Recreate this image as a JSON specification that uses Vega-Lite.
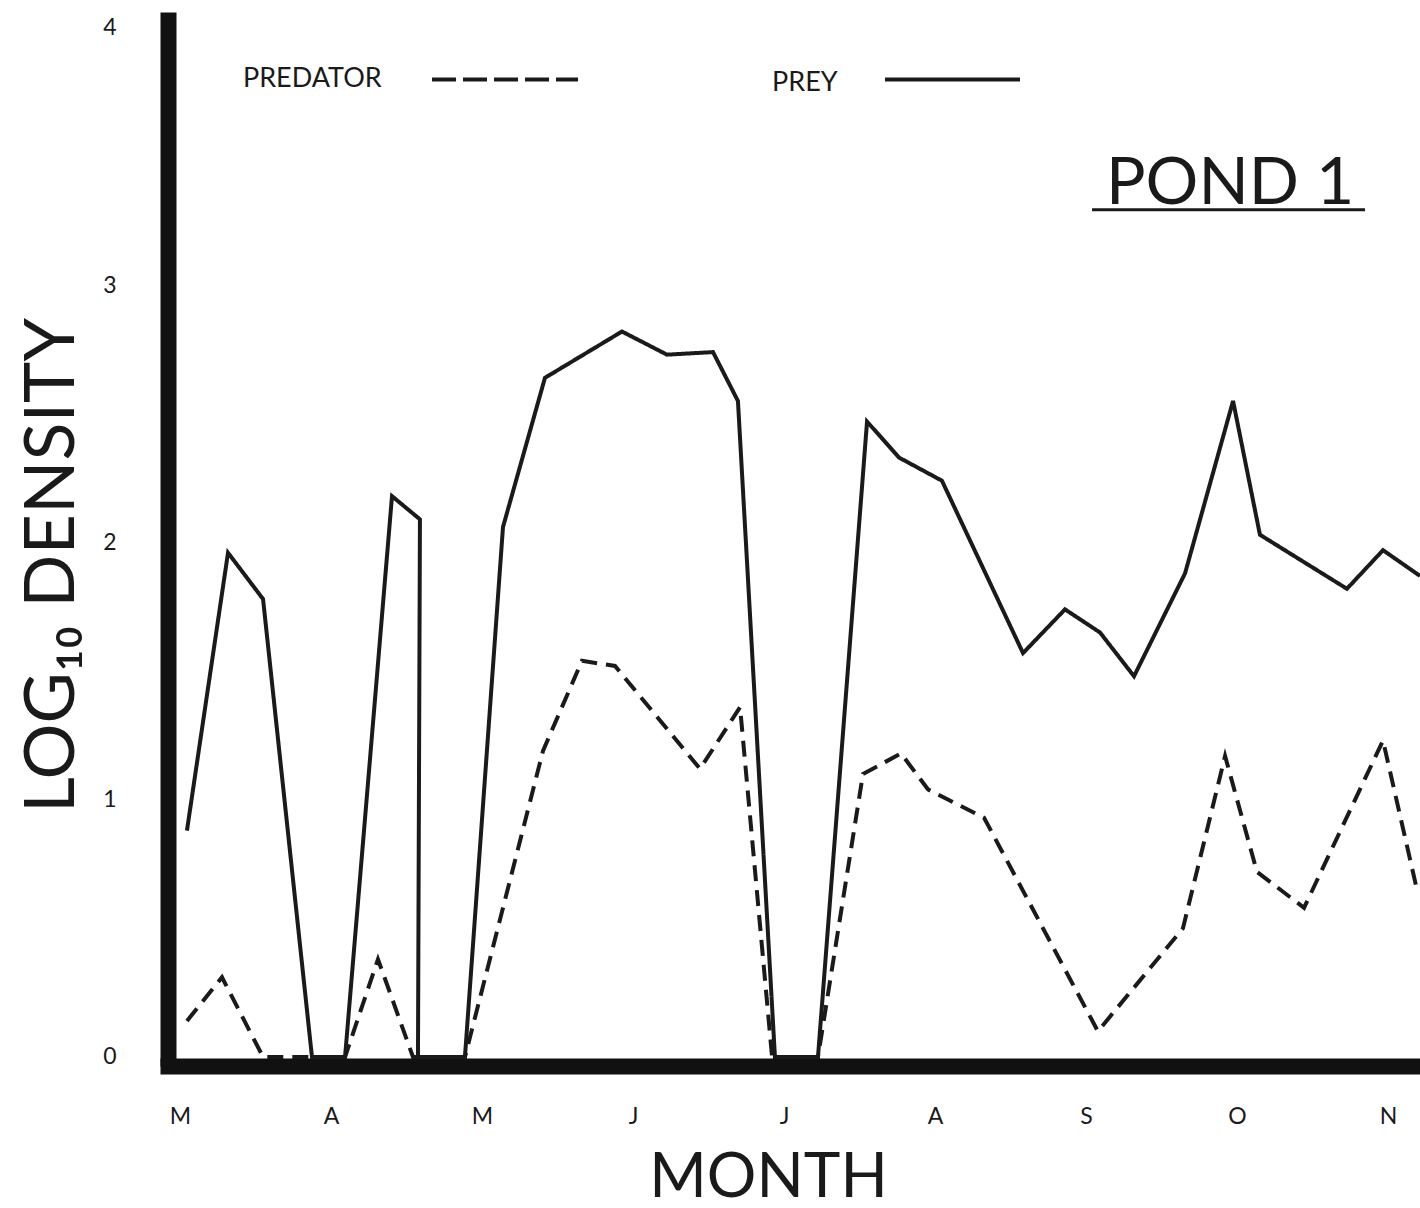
{
  "$schema": "https://vega.github.io/schema/vega-lite/v6.json",
  "width": 1252,
  "height": 1054,
  "autosize": {"type": "none"},
  "padding": {"left": 168, "top": 12, "right": 0, "bottom": 142},
  "background": "white",
  "config": {"view": {"stroke": null}, "font": "Lato", "text": {"font": "Lato", "color": "#1a1a1a"}},
  "datasets": {
    "series": [
      {"series": "Prey", "i": 1, "month": 0.046, "density": 0.88},
      {"series": "Prey", "i": 2, "month": 0.318, "density": 1.96},
      {"series": "Prey", "i": 3, "month": 0.55, "density": 1.78},
      {"series": "Prey", "i": 4, "month": 0.874, "density": 0},
      {"series": "Prey", "i": 5, "month": 1.093, "density": 0},
      {"series": "Prey", "i": 6, "month": 1.404, "density": 2.18},
      {"series": "Prey", "i": 7, "month": 1.589, "density": 2.09},
      {"series": "Prey", "i": 8, "month": 1.576, "density": 0},
      {"series": "Prey", "i": 9, "month": 1.887, "density": 0},
      {"series": "Prey", "i": 10, "month": 2.139, "density": 2.06},
      {"series": "Prey", "i": 11, "month": 2.417, "density": 2.64},
      {"series": "Prey", "i": 12, "month": 2.927, "density": 2.82},
      {"series": "Prey", "i": 13, "month": 3.225, "density": 2.73},
      {"series": "Prey", "i": 14, "month": 3.53, "density": 2.74},
      {"series": "Prey", "i": 15, "month": 3.695, "density": 2.55},
      {"series": "Prey", "i": 16, "month": 3.94, "density": 0},
      {"series": "Prey", "i": 17, "month": 4.225, "density": 0},
      {"series": "Prey", "i": 18, "month": 4.55, "density": 2.47},
      {"series": "Prey", "i": 19, "month": 4.762, "density": 2.33},
      {"series": "Prey", "i": 20, "month": 5.046, "density": 2.24},
      {"series": "Prey", "i": 21, "month": 5.583, "density": 1.57},
      {"series": "Prey", "i": 22, "month": 5.861, "density": 1.74},
      {"series": "Prey", "i": 23, "month": 6.093, "density": 1.65},
      {"series": "Prey", "i": 24, "month": 6.318, "density": 1.48},
      {"series": "Prey", "i": 25, "month": 6.656, "density": 1.88},
      {"series": "Prey", "i": 26, "month": 6.974, "density": 2.55},
      {"series": "Prey", "i": 27, "month": 7.152, "density": 2.03},
      {"series": "Prey", "i": 28, "month": 7.728, "density": 1.82},
      {"series": "Prey", "i": 29, "month": 7.967, "density": 1.97},
      {"series": "Prey", "i": 30, "month": 8.212, "density": 1.87},
      {"series": "Predator", "i": 1, "month": 0.046, "density": 0.14},
      {"series": "Predator", "i": 2, "month": 0.278, "density": 0.31},
      {"series": "Predator", "i": 3, "month": 0.55, "density": 0},
      {"series": "Predator", "i": 4, "month": 1.093, "density": 0},
      {"series": "Predator", "i": 5, "month": 1.311, "density": 0.38},
      {"series": "Predator", "i": 6, "month": 1.543, "density": 0},
      {"series": "Predator", "i": 7, "month": 1.887, "density": 0},
      {"series": "Predator", "i": 8, "month": 2.404, "density": 1.19},
      {"series": "Predator", "i": 9, "month": 2.662, "density": 1.54},
      {"series": "Predator", "i": 10, "month": 2.881, "density": 1.52},
      {"series": "Predator", "i": 11, "month": 3.444, "density": 1.12},
      {"series": "Predator", "i": 12, "month": 3.709, "density": 1.36},
      {"series": "Predator", "i": 13, "month": 3.921, "density": 0},
      {"series": "Predator", "i": 14, "month": 4.225, "density": 0},
      {"series": "Predator", "i": 15, "month": 4.523, "density": 1.1},
      {"series": "Predator", "i": 16, "month": 4.775, "density": 1.18},
      {"series": "Predator", "i": 17, "month": 4.954, "density": 1.04},
      {"series": "Predator", "i": 18, "month": 5.325, "density": 0.93},
      {"series": "Predator", "i": 19, "month": 6.079, "density": 0.1},
      {"series": "Predator", "i": 20, "month": 6.642, "density": 0.5},
      {"series": "Predator", "i": 21, "month": 6.921, "density": 1.17},
      {"series": "Predator", "i": 22, "month": 7.132, "density": 0.72},
      {"series": "Predator", "i": 23, "month": 7.444, "density": 0.58},
      {"series": "Predator", "i": 24, "month": 7.967, "density": 1.23},
      {"series": "Predator", "i": 25, "month": 8.192, "density": 0.65}
    ]
  },
  "layer": [
    {
      "data": {"name": "series"},
      "mark": {"type": "line", "strokeWidth": 4, "color": "#1a1a1a", "strokeJoin": "miter"},
      "encoding": {
        "x": {
          "field": "month", "type": "quantitative",
          "scale": {"domain": [-0.0795, 8.212], "nice": false, "zero": false},
          "axis": {
            "title": "MONTH",
            "values": [0, 1, 2, 3, 4, 5, 6, 7, 8],
            "labelExpr": "['M','A','M','J','J','A','S','O','N'][datum.value]",
            "ticks": false, "tickSize": 0, "grid": false,
            "domainWidth": 16, "domainColor": "#111111", "domainCap": "square",
            "labelFont": "Lato", "labelFontSize": 23, "labelColor": "#1a1a1a",
            "labelPadding": 39, "labelFlush": false,
            "titleFont": "Lato", "titleFontSize": 62, "titleFontWeight": "normal", "titleColor": "#1a1a1a",
            "titleX": 600, "titleY": 130, "titleBaseline": "alphabetic", "titleAlign": "center"
          }
        },
        "y": {
          "field": "density", "type": "quantitative",
          "scale": {"domain": [-0.035, 4.062], "nice": false, "zero": false},
          "axis": {
            "title": "LOG₁₀ DENSITY",
            "values": [0, 1, 2, 3, 4],
            "format": "d",
            "ticks": false, "tickSize": 0, "grid": false,
            "domainWidth": 16, "domainColor": "#111111",
            "labelFont": "Lato", "labelFontSize": 23, "labelColor": "#1a1a1a",
            "labelPadding": 52, "labelFlush": false,
            "titleFont": "Lato", "titleFontSize": 70, "titleFontWeight": "normal", "titleColor": "#1a1a1a",
            "titleAngle": -90, "titleX": -80, "titleY": 553, "titleBaseline": "bottom", "titleAlign": "center"
          }
        },
        "detail": {"field": "series"},
        "strokeDash": {
          "field": "series", "type": "nominal",
          "scale": {"domain": ["Predator", "Prey"], "range": [[16, 9], [1, 0]]},
          "legend": null
        },
        "order": {"field": "i", "type": "quantitative"}
      }
    },
    {
      "data": {"values": [{}]},
      "mark": {"type": "text", "text": "PREDATOR", "align": "left", "baseline": "middle", "fontSize": 27},
      "encoding": {"x": {"datum": 0.417, "type": "quantitative"}, "y": {"datum": 3.8, "type": "quantitative"}}
    },
    {
      "data": {"values": [{}]},
      "mark": {"type": "rule", "strokeWidth": 4, "color": "#1a1a1a", "strokeDash": [24, 7]},
      "encoding": {"x": {"datum": 1.669, "type": "quantitative"}, "x2": {"datum": 2.636}, "y": {"datum": 3.8, "type": "quantitative"}}
    },
    {
      "data": {"values": [{}]},
      "mark": {"type": "text", "text": "PREY", "align": "left", "baseline": "middle", "fontSize": 27},
      "encoding": {"x": {"datum": 3.921, "type": "quantitative"}, "y": {"datum": 3.786, "type": "quantitative"}}
    },
    {
      "data": {"values": [{}]},
      "mark": {"type": "rule", "strokeWidth": 4, "color": "#1a1a1a"},
      "encoding": {"x": {"datum": 4.669, "type": "quantitative"}, "x2": {"datum": 5.563}, "y": {"datum": 3.8, "type": "quantitative"}}
    },
    {
      "data": {"values": [{}]},
      "mark": {"type": "text", "text": "POND 1", "align": "center", "baseline": "middle", "fontSize": 66},
      "encoding": {"x": {"datum": 6.954, "type": "quantitative"}, "y": {"datum": 3.395, "type": "quantitative"}}
    },
    {
      "data": {"values": [{}]},
      "mark": {"type": "rule", "strokeWidth": 3, "color": "#1a1a1a"},
      "encoding": {"x": {"datum": 6.04, "type": "quantitative"}, "x2": {"datum": 7.848}, "y": {"datum": 3.293, "type": "quantitative"}}
    }
  ]
}
